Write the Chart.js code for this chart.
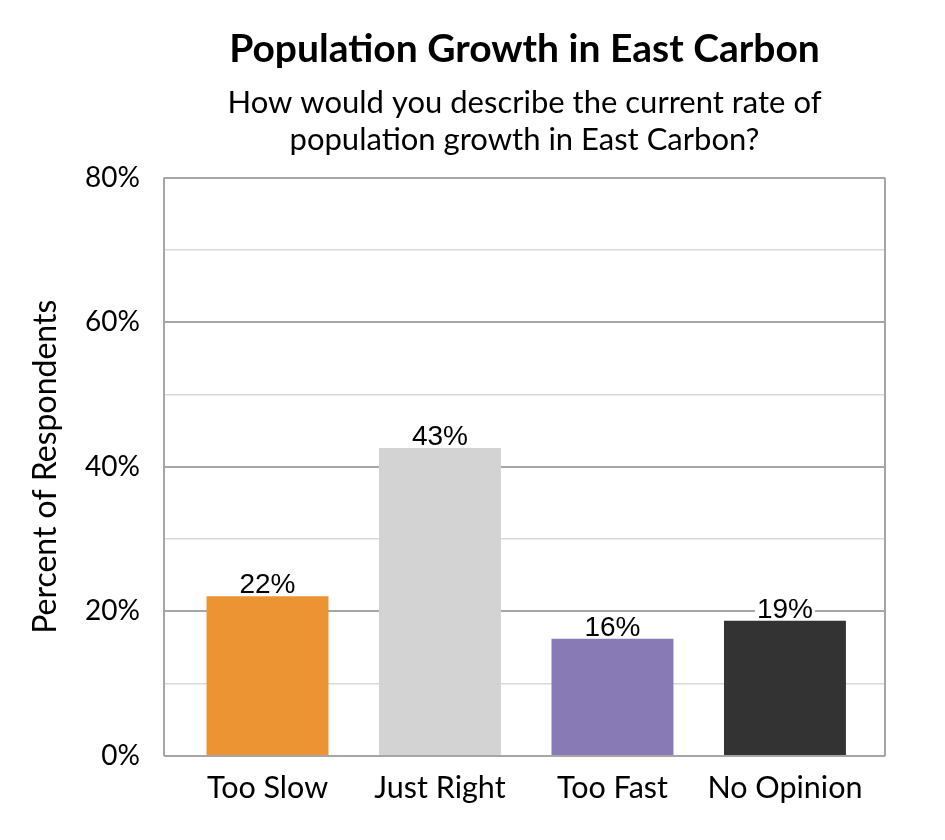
<!DOCTYPE html>
<html>
<head>
<meta charset="utf-8">
<script src="https://cdn.jsdelivr.net/npm/chart.js@4.4.1/dist/chart.umd.min.js"></script>
<style>
  html, body { margin: 0; padding: 0; background: #fff; }
  #wrap { width: 945px; height: 840px; }
</style>
</head>
<body>
<div id="wrap"><canvas id="c" width="945" height="840"></canvas></div>
<script>
const titleText = 'Population Growth in East Carbon';
const subtitleLines = ['How would you describe the current rate of', 'population growth in East Carbon?'];
const yAxisTitle = 'Percent of Respondents';
const categories = ['Too Slow', 'Just Right', 'Too Fast', 'No Opinion'];
const values = [22.1, 42.6, 16.2, 18.7];
const barColors = ['#EC9333', '#D3D3D3', '#887BB5', '#333333'];
const yTicks = [0, 10, 20, 30, 40, 50, 60, 70, 80];
const yLabelTicks = [0, 20, 40, 60, 80];

const FONT = 'Lato, "Open Sans", sans-serif';

const framePlugin = {
  id: 'frame',
  beforeDatasetsDraw(chart) {
    const a = chart.chartArea, ctx = chart.ctx;
    ctx.save();
    ctx.strokeStyle = '#A6A6A6';
    ctx.lineWidth = 2;
    ctx.beginPath();
    ctx.moveTo(a.left, a.top); ctx.lineTo(a.left, a.bottom);
    ctx.moveTo(a.right, a.top); ctx.lineTo(a.right, a.bottom);
    ctx.stroke();
    ctx.restore();
  }
};

const labelPlugin = {
  id: 'barLabels',
  afterDatasetsDraw(chart) {
    const ctx = chart.ctx;
    const meta = chart.getDatasetMeta(0);
    ctx.save();
    ctx.font = '28px "Liberation Sans", Arial, sans-serif';
    ctx.textAlign = 'center';
    ctx.textBaseline = 'alphabetic';
    meta.data.forEach((el, i) => {
      const txt = Math.round(values[i]) + '%';
      const w = ctx.measureText(txt).width;
      ctx.fillStyle = '#fff';
      ctx.fillRect(el.x - w / 2 - 2, el.y - 25, w + 4, 22);
      ctx.fillStyle = '#000';
      ctx.fillText(txt, el.x, el.y - 3);
    });
    ctx.restore();
  }
};

new Chart(document.getElementById('c'), {
  type: 'bar',
  data: {
    datasets: [{
      data: categories.map((c, i) => ({ x: i, y: values[i] })),
      backgroundColor: barColors,
      borderWidth: 0,
      categoryPercentage: 1,
      barPercentage: 0.707
    }]
  },
  options: {
    responsive: false,
    animation: false,
    devicePixelRatio: 1,
    layout: { padding: { left: 26, right: 60, top: 0, bottom: 0 } },
    plugins: {
      legend: { display: false },
      tooltip: { enabled: false },
      title: {
        display: true,
        fullSize: false,
        text: titleText,
        color: '#000',
        font: { family: FONT, size: 39, weight: 'bold', lineHeight: 1.2 },
        padding: { top: 26, bottom: 12 }
      },
      subtitle: {
        display: true,
        fullSize: false,
        text: subtitleLines,
        color: '#000',
        font: { family: FONT, size: 31, weight: 'normal', lineHeight: 1.19 },
        padding: { top: 0, bottom: 19 }
      }
    },
    scales: {
      x: {
        type: 'linear',
        min: -0.6,
        max: 3.58,
        offset: false,
        afterBuildTicks(scale) { scale.ticks = categories.map((c, i) => ({ value: i })); },
        afterFit(scale) { scale.height = 84; },
        grid: { display: false, drawTicks: false },
        border: { display: false },
        ticks: {
          autoSkip: false,
          maxRotation: 0,
          padding: 14,
          color: '#000',
          font: { family: FONT, size: 30.5 },
          callback: (v) => categories[v]
        }
      },
      y: {
        min: 0,
        max: 80,
        afterBuildTicks(scale) { scale.ticks = yTicks.map(v => ({ value: v })); },
        afterFit(scale) { scale.width = 164 - 26; },
        border: { display: false },
        grid: {
          drawTicks: false,
          color: (ctx) => (ctx.tick && ctx.tick.value % 20 === 0) ? '#A6A6A6' : '#D9D9D9',
          lineWidth: (ctx) => (ctx.tick && ctx.tick.value % 20 === 0) ? 2 : 1.5
        },
        ticks: {
          padding: 24,
          color: '#000',
          font: { family: FONT, size: 28 },
          callback: (v) => yLabelTicks.includes(v) ? v + '%' : ''
        },
        title: {
          display: true,
          text: yAxisTitle,
          color: '#000',
          font: { family: FONT, size: 32 },
          padding: { top: 0, bottom: 0 }
        }
      }
    }
  },
  plugins: [framePlugin, labelPlugin]
});
</script>
</body>
</html>
